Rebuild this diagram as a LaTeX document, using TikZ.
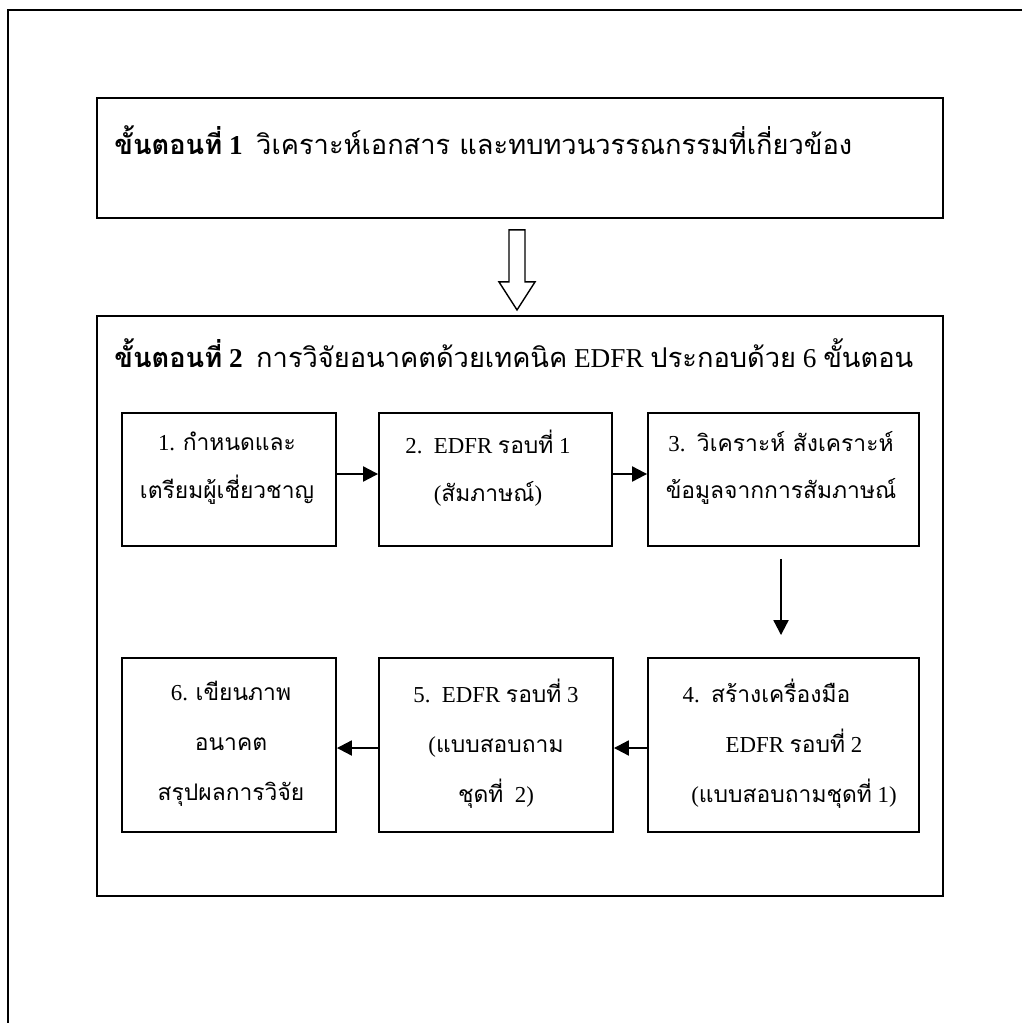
\documentclass[tikz,border=0pt]{standalone}
\usepackage{fontspec}
\setmainfont{Liberation Serif}
\newfontfamily\thaifont[Script=Thai]{Loma}
\newcommand\tha[1]{{\thaifont #1}}
\usetikzlibrary{arrows.meta,positioning}

\begin{document}
\begin{tikzpicture}[x=0.02cm,y=-0.02cm,
    stepbox/.style={draw,line width=1.1pt,inner sep=0pt},
    rowone/.style={stepbox,minimum height=2.66cm},
    rowtwo/.style={stepbox,minimum height=3.48cm},
    boxtext/.style={align=center,font=\fontsize{13}{27}\selectfont},
    boxtexttwo/.style={align=center,font=\fontsize{13}{28.5}\selectfont},
    headtext/.style={anchor=base west,inner sep=0pt,font=\fontsize{15.5}{18}\selectfont},
    arr/.style={-{Triangle[length=8.5pt,width=8.5pt]},line width=1.2pt}]

  \useasboundingbox (0,0) rectangle (1022,1023);
  % page frame
  \draw[line width=1.1pt] (1022,10) -- (8,10) -- (8,1023);

  % step 1
  \node[stepbox,minimum width=16.92cm,minimum height=2.4cm] (h1) at (520,158) {};
  \node[headtext] (h1t) at (114,155)
    {\textbf{\tha{ขั้นตอนที่} 1}\hspace{0.5em}\tha{วิเคราะห์เอกสาร และทบทวนวรรณกรรมที่เกี่ยวข้อง}};

  % step 2
  \node[stepbox,minimum width=16.92cm,minimum height=11.6cm] (h2) at (520,606) {};
  \node[headtext] (h2t) at (114,367)
    {\textbf{\tha{ขั้นตอนที่} 2}\hspace{0.5em}\tha{การวิจัยอนาคตด้วยเทคนิค} EDFR \tha{ประกอบด้วย} 6 \tha{ขั้นตอน}};

  % hollow arrow
  \coordinate (ht) at ([xshift=-0.06cm,yshift=-0.22cm]h1.south);
  \draw[line width=0.8pt] (ht) ++(-8,0) -- ++(0,52) -- ++(-10,0) -- ++(18,28)
    -- ++(18,-28) -- ++(-10,0) -- ++(0,-52) -- cycle;

  % first row
  \node[rowone,minimum width=4.28cm] (b1) at (229,479.5) {};
  \node[rowone,minimum width=4.66cm] (b2) at (495.5,479.5) {};
  \node[rowone,minimum width=5.42cm] (b3) at (783.5,479.5) {};
  \node[boxtext] (t1) at (227,468) {1. \tha{กำหนดและ}\\ \tha{เตรียมผู้เชี่ยวชาญ}};
  \node[boxtext] (t2) at (488,468) {2.\ \ EDFR \tha{รอบที่} 1\\ (\tha{สัมภาษณ์})};
  \node[boxtext] (t3) at (781,468) {3.\ \ \tha{วิเคราะห์ สังเคราะห์}\\ \tha{ข้อมูลจากการสัมภาษณ์}};

  % second row
  \node[rowtwo,minimum width=4.28cm] (b6) at (229,745) {};
  \node[rowtwo,minimum width=4.68cm] (b5) at (496,745) {};
  \node[rowtwo,minimum width=5.42cm] (b4) at (783.5,745) {};
  \node[boxtexttwo] (t4) at (794,744) {4.\ \ \tha{สร้างเครื่องมือ}\hspace*{1.1cm}\\ EDFR \tha{รอบที่} 2\\ (\tha{แบบสอบถามชุดที่} 1)};
  \node[boxtexttwo] (t5) at (496,744) {5.\ \ EDFR \tha{รอบที่} 3\\ (\tha{แบบสอบถาม}\\ \tha{ชุดที่}\ \ 2)};
  \node[boxtexttwo] (t6) at (231,744) {6. \tha{เขียนภาพ}\\ \tha{อนาคต}\\ \tha{สรุปผลการวิจัย}};

  % connectors
  \draw[arr] ([yshift=0.11cm]b1.east) -- ([yshift=0.11cm]b2.west);
  \draw[arr] ([yshift=0.11cm]b2.east) -- ([yshift=0.11cm]b3.west);
  \draw[arr] ([xshift=-0.05cm,yshift=-0.24cm]b3.south) -- ([xshift=-0.05cm,yshift=0.44cm]b4.north);
  \draw[arr] ([yshift=-0.06cm]b4.west) -- ([yshift=-0.06cm]b5.east);
  \draw[arr] ([yshift=-0.06cm]b5.west) -- ([yshift=-0.06cm]b6.east);
\end{tikzpicture}
\end{document}
